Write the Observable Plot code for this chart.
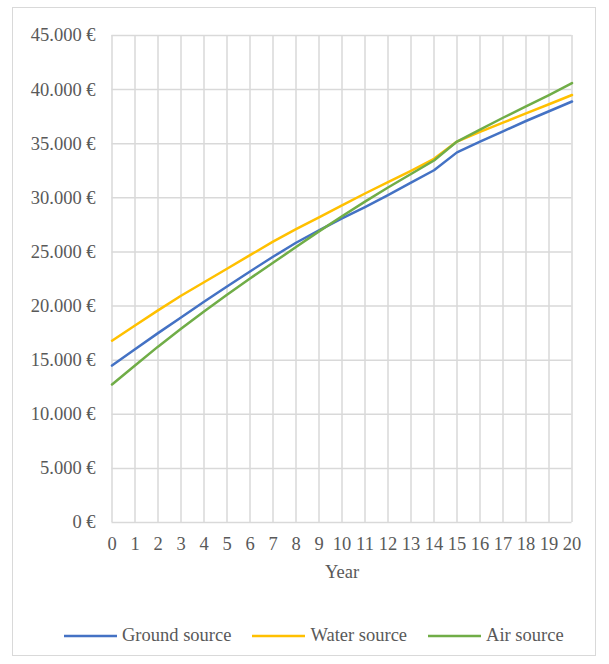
<!DOCTYPE html>
<html>
<head>
<meta charset="utf-8">
<script src="https://cdn.jsdelivr.net/npm/d3@7"></script>
<script src="https://cdn.jsdelivr.net/npm/@observablehq/plot@0.6"></script>
<style>
  html, body { margin: 0; padding: 0; background: #fff; }
  #page { position: relative; width: 609px; height: 664px; background: #fff; font-family: "Liberation Serif", "Times New Roman", serif; color: #595959; }
  #frame { position: absolute; left: 12px; top: 7px; width: 584px; height: 649px; border: 1px solid #d9d9d9; box-sizing: border-box; }
  #chart { position: absolute; left: 0; top: 0; }
  #legend { position: absolute; left: 64px; top: 625px; display: flex; align-items: center; font-size: 18.5px; white-space: nowrap; }
  .item { display: flex; align-items: center; margin-right: 21px; }
  .item svg { margin-right: 5px; }
</style>
</head>
<body>
<div id="page">
  <div id="frame"></div>
  <div id="chart"></div>
  <div id="legend"></div>
</div>
<script>
// Cumulative cost per year for three heat pump types (EUR)
const years = [0, 1, 2, 3, 4, 5, 6, 7, 8, 9, 10, 11, 12, 13, 14, 15, 16, 17, 18, 19, 20];
const groundSource = [14500, 16000, 17500, 18950, 20400, 21800, 23200, 24550, 25850, 27000, 28100, 29150, 30250, 31400, 32550, 34200, 35200, 36150, 37100, 38000, 38900];
const waterSource  = [16800, 18200, 19600, 20950, 22200, 23450, 24700, 25950, 27100, 28200, 29300, 30400, 31450, 32500, 33600, 35200, 36100, 36950, 37800, 38650, 39500];
const airSource    = [12750, 14500, 16250, 17900, 19500, 21050, 22550, 24000, 25450, 26900, 28300, 29650, 30950, 32200, 33450, 35200, 36300, 37400, 38450, 39500, 40600];
const seriesNames = ["Ground source", "Water source", "Air source"];
const seriesColors = ["#4472C4", "#FFC000", "#70AD47"];
const yTicks = [0, 5000, 10000, 15000, 20000, 25000, 30000, 35000, 40000, 45000];
const xTitle = "Year";

const seriesValues = [groundSource, waterSource, airSource];
const rows = seriesNames.flatMap((name, i) =>
  years.map((year, j) => ({series: name, year, value: seriesValues[i][j]}))
);

const euro = d3.formatLocale({decimal: ",", thousands: ".", grouping: [3], currency: ["", " €"]}).format(",");
const fmtEuro = d => euro(d) + " €";

const serif = "Liberation Serif, Times New Roman, serif";
const gridStyle = {stroke: "#d9d9d9", strokeOpacity: 1, strokeWidth: 1.5};
const textStyle = {fill: "#595959", fontFamily: serif, fontSize: 18.5};

const chart = Plot.plot({
  width: 609,
  height: 600,
  marginLeft: 111.5,
  marginRight: 37.5,
  marginTop: 35,
  marginBottom: 78,
  style: {fontFamily: serif, fontSize: "18.5px", color: "#595959", background: "transparent", overflow: "visible"},
  x: {domain: [0, 20]},
  y: {domain: [0, 45000]},
  color: {domain: seriesNames, range: seriesColors},
  marks: [
    Plot.gridX(years, gridStyle),
    Plot.gridY(yTicks, gridStyle),
    Plot.axisX(years, {tickSize: 0, tickPadding: 14, label: null, tickFormat: d => String(d), ...textStyle}),
    Plot.axisY(yTicks, {tickSize: 0, tickPadding: 16.5, label: null, tickFormat: fmtEuro, ...textStyle}),
    Plot.line(rows, {x: "year", y: "value", z: "series", stroke: "series", strokeWidth: 2.5, strokeLinejoin: "round", strokeLinecap: "round"}),
    Plot.text([xTitle], {frameAnchor: "bottom", dy: 55, ...textStyle})
  ]
});
document.getElementById("chart").appendChild(chart);

// Legend with short line swatches
const legend = document.getElementById("legend");
seriesNames.forEach((name, i) => {
  const item = document.createElement("div");
  item.className = "item";
  item.innerHTML = `<svg width="53" height="6"><line x1="0" y1="3" x2="53" y2="3" stroke="${seriesColors[i]}" stroke-width="2.5"/></svg><span>${name}</span>`;
  legend.appendChild(item);
});
</script>
</body>
</html>
